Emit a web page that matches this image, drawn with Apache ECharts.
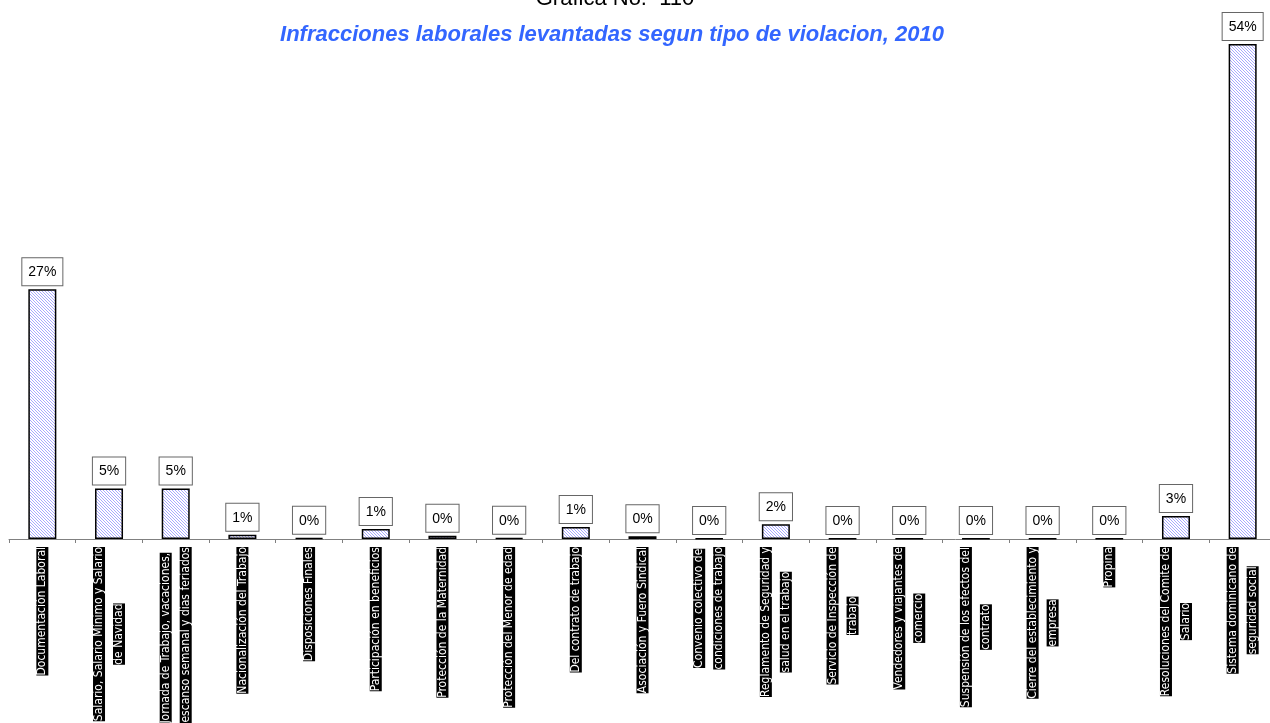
<!DOCTYPE html>
<html>
<head>
    <meta charset="utf-8" />
    <title>Grafica No. 110</title>
    <script type="text/javascript" src="https://cdn.jsdelivr.net/npm/echarts@6/dist/echarts.min.js"></script>
    <style>
        html, body { margin: 0; padding: 0; background: #fff; }
    </style>
</head>
<body>
<div id="main" style="width: 1270px;height:723px;"></div>
<script type="text/javascript">
    // tipos de violacion (eje x)
    var categories = [
        'Documentación Laboral',
        'Salario, Salario Mínimo y Salario\nde Navidad',
        'Jornada de Trabajo, vacaciones,\ndescanso semanal y dias feriados',
        'Nacionalización del Trabajo',
        'Disposiciones Finales',
        'Participación en beneficios',
        'Protección de la Maternidad',
        'Protección del Menor de edad',
        'Del contrato de trabajo',
        'Asociación y Fuero Sindical',
        'Convenio colectivo de\ncondiciones de trabajo',
        'Reglamento de Seguridad y\nsalud en el trabajo',
        'Servicio de Inspección de\ntrabajo',
        'Vendedores y viajantes de\ncomercio',
        'Suspensión de los efectos del\ncontrato',
        'Cierre del establecimiento y\nempresa',
        'Propina',
        'Resoluciones del Comite de\nSalario',
        'Sistema dominicano de\nseguridad social'
    ];
    // porcentaje de infracciones (altura de barras)
    var values = [27.2, 5.5, 5.5, 0.45, 0.1, 1.1, 0.35, 0.1, 1.3, 0.3, 0.05, 1.6, 0.03, 0.03, 0.03, 0.03, 0.03, 2.5, 53.9];
    // etiquetas mostradas encima de cada barra
    var labels = ['27%', '5%', '5%', '1%', '0%', '1%', '0%', '0%', '1%', '0%', '0%', '2%', '0%', '0%', '0%', '0%', '0%', '3%', '54%'];

    // trama diagonal para el relleno de las barras
    var hatch = document.createElement('canvas');
    hatch.width = 6;
    hatch.height = 6;
    var ctx = hatch.getContext('2d');
    ctx.fillStyle = '#ffffff';
    ctx.fillRect(0, 0, 6, 6);
    ctx.strokeStyle = '#a8a8ff';
    ctx.lineWidth = 1;
    for (var k = -6; k <= 6; k += 3) {
        ctx.beginPath();
        ctx.moveTo(k, 0);
        ctx.lineTo(k + 6, 6);
        ctx.stroke();
    }

    var myChart = echarts.init(document.getElementById('main'));
    var option = {
        animation: false,
        title: [
            {
                text: 'Grafica No.  110',
                left: 610,
                top: -17,
                textAlign: 'center',
                textStyle: { fontFamily: 'Liberation Sans', fontSize: 22, fontWeight: 'normal', color: '#000' }
            },
            {
                text: 'Infracciones laborales levantadas segun tipo de violacion, 2010',
                left: 607,
                top: 19,
                textAlign: 'center',
                textStyle: { fontFamily: 'Liberation Sans', fontSize: 22, fontWeight: 'bold', fontStyle: 'italic', color: '#3366ff' }
            }
        ],
        grid: {
            left: 9,
            top: 43,
            width: 1267,
            bottom: 184,
            outerBoundsMode: 'none',
            containLabel: false
        },
        xAxis: {
            type: 'category',
            data: categories,
            axisLine: { lineStyle: { color: '#808080', width: 1 } },
            axisTick: { show: true, length: 4, lineStyle: { color: '#808080' } },
            axisLabel: {
                interval: 0,
                rotate: 90,
                margin: 8,
                formatter: function (v) {
                    return v.split('\n').map(function (s) { return '{a|' + s + '}'; }).join('\n');
                },
                rich: {
                    a: {
                        backgroundColor: '#000',
                        color: '#fff',
                        fontFamily: '"Liberation Sans Narrow", "DejaVu Sans Condensed", "Liberation Sans", sans-serif',
                        fontSize: 12,
                        lineHeight: 20,
                        align: 'center'
                    }
                }
            }
        },
        yAxis: {
            type: 'value',
            min: 0,
            max: 54,
            show: false,
            splitLine: { show: false }
        },
        series: [
            {
                type: 'bar',
                data: values,
                barWidth: 28,
                itemStyle: {
                    color: { image: hatch, repeat: 'repeat' },
                    borderColor: '#000',
                    borderWidth: 1.5
                },
                label: {
                    show: true,
                    position: 'top',
                    distance: 4,
                    formatter: function (p) { return labels[p.dataIndex]; },
                    fontFamily: 'Liberation Sans',
                    fontSize: 14,
                    color: '#000',
                    backgroundColor: '#fff',
                    borderColor: '#666',
                    borderWidth: 1,
                    padding: [7, 6, 6, 6]
                }
            }
        ]
    };
    myChart.setOption(option);
</script>
</body>
</html>
